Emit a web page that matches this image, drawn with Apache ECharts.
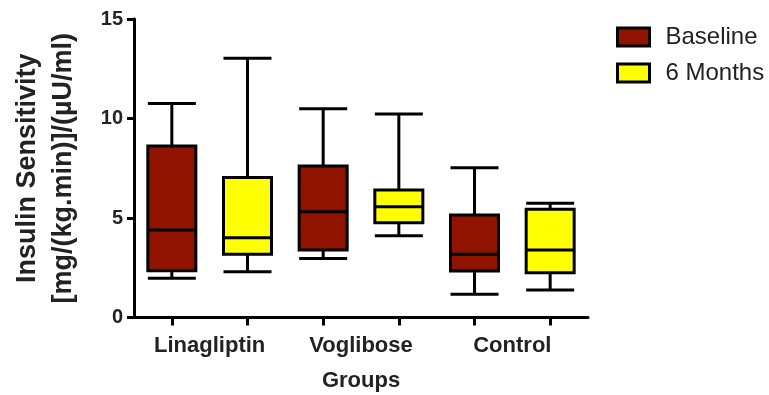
<!DOCTYPE html>
<html>
<head>
<meta charset="utf-8">
<script src="https://cdn.jsdelivr.net/npm/echarts@6/dist/echarts.min.js"></script>
<style>
html,body{margin:0;padding:0;background:#fff;}
#chart{width:769px;height:395px;}
</style>
</head>
<body>
<div id="chart"></div>
<script>
// Data
const groups = ['Linagliptin', 'Voglibose', 'Control'];
const seriesNames = ['Baseline', '6 Months'];
// [min, Q1, median, Q3, max]
const baseline = [
  [1.97, 2.35, 4.40, 8.62, 10.76],
  [2.97, 3.39, 5.32, 7.61, 10.49],
  [1.17, 2.34, 3.18, 5.15, 7.53]
];
const months6 = [
  [2.30, 3.18, 4.01, 7.03, 13.03],
  [4.11, 4.76, 5.57, 6.41, 10.23],
  [1.38, 2.25, 3.39, 5.44, 5.74]
];
const yTicks = [0, 5, 10, 15];
const slotNames = ['Linagliptin-B', 'Linagliptin-6', 'Voglibose-B', 'Voglibose-6', 'Control-B', 'Control-6'];
const seriesColors = ['#901300', '#ffff00'];

const FONT = 'Liberation Sans, Arial, Helvetica, sans-serif';
const empty = ['-', '-', '-', '-', '-'];
function slots(arr, offset) {
  const out = [];
  for (let i = 0; i < groups.length; i++) {
    if (offset === 0) { out.push(arr[i]); out.push(empty); }
    else { out.push(empty); out.push(arr[i]); }
  }
  return out;
}

const chart = echarts.init(document.getElementById('chart'), null, {renderer: 'canvas'});
const axisLine = {show: true, lineStyle: {color: '#000', width: 3}};
chart.setOption({
  animation: false,
  backgroundColor: '#fff',
  textStyle: {fontFamily: FONT},
  grid: {left: 134, right: 181, top: 19, bottom: 77.5, containLabel: false, outerBoundsMode: 'none'},
  legend: {
    orient: 'vertical',
    left: 616, top: 25,
    padding: 0,
    itemWidth: 32, itemHeight: 18,
    itemGap: 12,
    icon: 'rect',
    data: seriesNames.map(function (n, i) {
      return {name: n, icon: 'rect', itemStyle: {color: seriesColors[i], borderColor: '#000', borderWidth: 3}};
    }),
    itemStyle: {borderColor: '#000', borderWidth: 3},
    textStyle: {fontFamily: FONT, fontSize: 24, color: '#222', padding: [0, 0, 0, 11]}
  },
  xAxis: [
    {
      type: 'category', data: slotNames, gridIndex: 0, boundaryGap: true,
      axisLine: axisLine,
      axisTick: {show: true, alignWithLabel: true, interval: 0, length: 8, lineStyle: {color: '#000', width: 3}},
      axisLabel: {show: false},
      splitLine: {show: false}
    },
    {
      type: 'category', data: slotNames, gridIndex: 0, show: false
    },
    {
      type: 'category', data: groups, gridIndex: 0, position: 'bottom',
      axisLine: {show: false}, axisTick: {show: false}, splitLine: {show: false},
      axisLabel: {show: true, interval: 0, margin: 17, fontFamily: FONT, fontSize: 22, fontWeight: 'bold', color: '#222'},
      name: 'Groups', nameLocation: 'middle', nameGap: 52,
      nameTextStyle: {fontFamily: FONT, fontSize: 22, fontWeight: 'bold', color: '#222'}
    }
  ],
  yAxis: {
    type: 'value', min: yTicks[0], max: yTicks[yTicks.length - 1], interval: yTicks[1] - yTicks[0],
    axisLine: axisLine,
    axisTick: {show: true, length: 7, lineStyle: {color: '#000', width: 3}},
    splitLine: {show: false},
    axisLabel: {margin: 11, fontFamily: FONT, fontSize: 20, fontWeight: 'bold', color: '#222'},
    name: 'Insulin Sensitivity\n[mg/(kg.min)]/(µU/ml)',
    nameLocation: 'middle', nameRotate: 90, nameGap: 52,
    nameTextStyle: {fontFamily: FONT, fontSize: 27, fontWeight: 'bold', color: '#222', lineHeight: 36, align: 'center'}
  },
  series: [
    {
      name: seriesNames[0], type: 'boxplot', xAxisIndex: 0,
      boxWidth: [48, 48],
      itemStyle: {color: seriesColors[0], borderColor: '#000', borderWidth: 3},
      data: slots(baseline, 0)
    },
    {
      name: seriesNames[1], type: 'boxplot', xAxisIndex: 1,
      boxWidth: [48, 48],
      itemStyle: {color: seriesColors[1], borderColor: '#000', borderWidth: 3},
      data: slots(months6, 1)
    }
  ]
});
</script>
</body>
</html>
